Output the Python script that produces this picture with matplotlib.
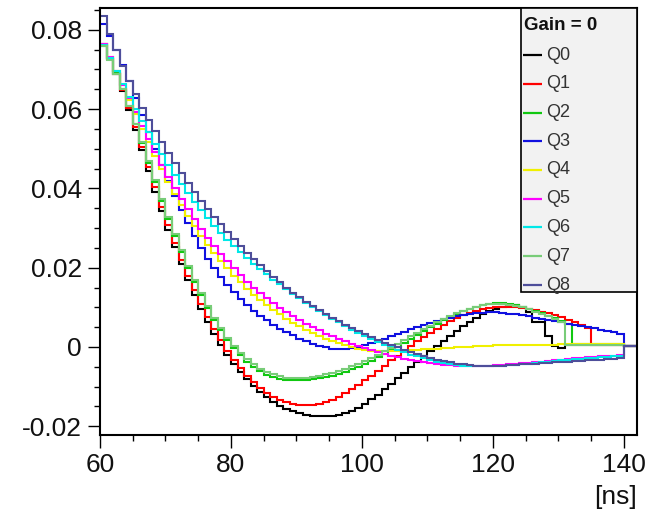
import numpy as np
import matplotlib
matplotlib.use("Agg")
import matplotlib.pyplot as plt
from matplotlib.patches import Rectangle
from matplotlib.ticker import MultipleLocator

plt.rcParams['font.family'] = ['Liberation Sans', 'DejaVu Sans']

# bin edges in ns (1 ns bins)
edges = np.arange(60, 143)

labels = ["Q0", "Q1", "Q2", "Q3", "Q4", "Q5", "Q6", "Q7", "Q8"]
colors = ["#000000", "#ff0000", "#10c810", "#1010e0", "#f0f000",
          "#ff00ff", "#00e8e8", "#78cc78", "#4e4e9a"]

q0 = [0.0765, 0.0728, 0.0688, 0.0645, 0.0598, 0.0548, 0.0496, 0.0443, 0.0391, 0.0342,
      0.0295, 0.0251, 0.0209, 0.0169, 0.0132, 0.0097, 0.0064, 0.0034, 0.0006, -0.0019,
      -0.0042, -0.0063, -0.0082, -0.0099, -0.0114, -0.0127, -0.0138, -0.0148, -0.0156, -0.0162,
      -0.0167, -0.0171, -0.0173, -0.0175, -0.0175, -0.0174, -0.0171, -0.0167, -0.0161, -0.0153,
      -0.0143, -0.0132, -0.0120, -0.0107, -0.0093, -0.0079, -0.0065, -0.0051, -0.0037, -0.0024,
      -0.0011, 0.0002, 0.0015, 0.0028, 0.0041, 0.0053, 0.0064, 0.0074, 0.0083, 0.0091,
      0.0097, 0.0102, 0.0105, 0.0106, 0.0101, 0.0088, 0.0064, 0.0063, 0.0028, 0.0003,
      -0.0002, 0.0006, 0.0006, 0.0006, 0.0006, 0.0006, 0.0006, 0.0006, 0.0006, 0.0006,
      0.0003, 0.0003]
q1 = [0.0762, 0.0727, 0.0689, 0.0648, 0.0603, 0.0555, 0.0505, 0.0454, 0.0403, 0.0354,
      0.0307, 0.0262, 0.0220, 0.0180, 0.0143, 0.0108, 0.0075, 0.0045, 0.0017, -0.0009,
      -0.0032, -0.0053, -0.0072, -0.0089, -0.0104, -0.0116, -0.0126, -0.0134, -0.0140, -0.0144,
      -0.0146, -0.0147, -0.0146, -0.0143, -0.0139, -0.0133, -0.0126, -0.0117, -0.0107, -0.0096,
      -0.0084, -0.0072, -0.0060, -0.0047, -0.0034, -0.0022, -0.0010, 0.0002, 0.0014, 0.0025,
      0.0036, 0.0046, 0.0056, 0.0065, 0.0073, 0.0080, 0.0086, 0.0091, 0.0095, 0.0098,
      0.0100, 0.0101, 0.0101, 0.0100, 0.0098, 0.0096, 0.0093, 0.0089, 0.0085, 0.0080,
      0.0075, 0.0069, 0.0063, 0.0056, 0.0048, 0.0005, 0.0005, 0.0005, 0.0005, 0.0005,
      0.0003, 0.0003]
q2 = [0.0760, 0.0726, 0.0690, 0.0651, 0.0608, 0.0562, 0.0514, 0.0465, 0.0416, 0.0369,
      0.0323, 0.0280, 0.0239, 0.0200, 0.0164, 0.0130, 0.0098, 0.0069, 0.0042, 0.0018,
      -0.0003, -0.0021, -0.0037, -0.0050, -0.0061, -0.0070, -0.0076, -0.0080, -0.0083, -0.0084,
      -0.0084, -0.0083, -0.0081, -0.0079, -0.0076, -0.0072, -0.0067, -0.0062, -0.0056, -0.0050,
      -0.0043, -0.0035, -0.0026, -0.0017, -0.0008, 0.0001, 0.0011, 0.0021, 0.0031, 0.0041,
      0.0050, 0.0059, 0.0068, 0.0076, 0.0083, 0.0090, 0.0096, 0.0101, 0.0105, 0.0108,
      0.0110, 0.0110, 0.0109, 0.0106, 0.0102, 0.0097, 0.0091, 0.0085, 0.0079, 0.0072,
      0.0065, 0.0058, 0.0008, 0.0008, 0.0008, 0.0008, 0.0008, 0.0008, 0.0008, 0.0008,
      0.0003, 0.0003]
q3 = [0.0815, 0.0785, 0.0750, 0.0712, 0.0670, 0.0627, 0.0584, 0.0541, 0.0499, 0.0458,
      0.0419, 0.0382, 0.0346, 0.0312, 0.0280, 0.0250, 0.0223, 0.0198, 0.0176, 0.0156,
      0.0138, 0.0121, 0.0106, 0.0092, 0.0079, 0.0067, 0.0056, 0.0046, 0.0037, 0.0029,
      0.0021, 0.0014, 0.0008, 0.0003, -0.0001, -0.0004, -0.0005, -0.0005, -0.0003, 0.0000,
      0.0004, 0.0009, 0.0015, 0.0021, 0.0027, 0.0033, 0.0039, 0.0045, 0.0051, 0.0056,
      0.0061, 0.0066, 0.0070, 0.0074, 0.0077, 0.0080, 0.0083, 0.0085, 0.0086, 0.0087,
      0.0087, 0.0086, 0.0084, 0.0082, 0.0080, 0.0077, 0.0074, 0.0071, 0.0068, 0.0065,
      0.0062, 0.0059, 0.0056, 0.0053, 0.0050, 0.0047, 0.0043, 0.0040, 0.0037, 0.0034,
      0.0003, 0.0003]
q4 = [0.0765, 0.0732, 0.0697, 0.0661, 0.0624, 0.0587, 0.0551, 0.0516, 0.0482, 0.0449,
      0.0417, 0.0387, 0.0358, 0.0331, 0.0305, 0.0281, 0.0258, 0.0237, 0.0217, 0.0198,
      0.0180, 0.0163, 0.0147, 0.0132, 0.0118, 0.0105, 0.0093, 0.0082, 0.0071, 0.0061,
      0.0052, 0.0043, 0.0035, 0.0028, 0.0021, 0.0015, 0.0009, 0.0004, -0.0001, -0.0005,
      -0.0008, -0.0010, -0.0011, -0.0011, -0.0011, -0.0010, -0.0009, -0.0008, -0.0007, -0.0006,
      -0.0005, -0.0004, -0.0003, -0.0002, -0.0001, 0.0000, 0.0001, 0.0002, 0.0003, 0.0003,
      0.0004, 0.0004, 0.0005, 0.0005, 0.0005, 0.0006, 0.0006, 0.0006, 0.0006, 0.0006,
      0.0007, 0.0007, 0.0007, 0.0007, 0.0007, 0.0007, 0.0007, 0.0007, 0.0007, 0.0007,
      0.0003, 0.0003]
q5 = [0.0764, 0.0731, 0.0697, 0.0662, 0.0627, 0.0592, 0.0558, 0.0525, 0.0492, 0.0460,
      0.0430, 0.0401, 0.0373, 0.0347, 0.0322, 0.0298, 0.0276, 0.0255, 0.0235, 0.0216,
      0.0198, 0.0181, 0.0165, 0.0150, 0.0136, 0.0123, 0.0111, 0.0099, 0.0088, 0.0078,
      0.0068, 0.0059, 0.0050, 0.0042, 0.0034, 0.0027, 0.0020, 0.0014, 0.0008, 0.0002,
      -0.0003, -0.0008, -0.0013, -0.0018, -0.0022, -0.0026, -0.0030, -0.0033, -0.0036, -0.0039,
      -0.0041, -0.0043, -0.0045, -0.0046, -0.0047, -0.0048, -0.0048, -0.0048, -0.0048, -0.0047,
      -0.0046, -0.0045, -0.0044, -0.0043, -0.0041, -0.0040, -0.0038, -0.0037, -0.0035, -0.0034,
      -0.0032, -0.0031, -0.0029, -0.0028, -0.0026, -0.0025, -0.0024, -0.0023, -0.0022, -0.0021,
      0.0003, 0.0003]
q6 = [0.0762, 0.0729, 0.0696, 0.0663, 0.0631, 0.0600, 0.0570, 0.0541, 0.0513, 0.0486,
      0.0460, 0.0435, 0.0411, 0.0388, 0.0366, 0.0345, 0.0325, 0.0306, 0.0288, 0.0271,
      0.0255, 0.0239, 0.0224, 0.0210, 0.0196, 0.0183, 0.0170, 0.0158, 0.0146, 0.0134,
      0.0123, 0.0112, 0.0101, 0.0091, 0.0081, 0.0071, 0.0062, 0.0053, 0.0044, 0.0036,
      0.0028, 0.0020, 0.0013, 0.0006, -0.0001, -0.0007, -0.0013, -0.0019, -0.0024, -0.0029,
      -0.0033, -0.0037, -0.0040, -0.0043, -0.0045, -0.0047, -0.0048, -0.0049, -0.0049, -0.0049,
      -0.0048, -0.0047, -0.0046, -0.0045, -0.0043, -0.0042, -0.0040, -0.0039, -0.0037, -0.0036,
      -0.0034, -0.0033, -0.0031, -0.0030, -0.0028, -0.0027, -0.0026, -0.0025, -0.0024, -0.0023,
      0.0003, 0.0003]
q7 = [0.0758, 0.0724, 0.0688, 0.0650, 0.0608, 0.0563, 0.0516, 0.0468, 0.0420, 0.0373,
      0.0328, 0.0285, 0.0244, 0.0205, 0.0169, 0.0135, 0.0103, 0.0074, 0.0047, 0.0023,
      0.0002, -0.0016, -0.0031, -0.0044, -0.0055, -0.0063, -0.0069, -0.0074, -0.0077, -0.0078,
      -0.0078, -0.0077, -0.0075, -0.0072, -0.0069, -0.0065, -0.0060, -0.0055, -0.0049, -0.0043,
      -0.0036, -0.0028, -0.0020, -0.0011, -0.0002, 0.0007, 0.0017, 0.0027, 0.0036, 0.0045,
      0.0054, 0.0063, 0.0071, 0.0078, 0.0085, 0.0091, 0.0097, 0.0102, 0.0106, 0.0108,
      0.0109, 0.0109, 0.0107, 0.0104, 0.0100, 0.0095, 0.0089, 0.0083, 0.0077, 0.0071,
      0.0064, 0.0006, 0.0006, 0.0006, 0.0006, 0.0006, 0.0006, 0.0006, 0.0006, 0.0006,
      0.0003, 0.0003]
q8 = [0.0836, 0.0790, 0.0748, 0.0709, 0.0672, 0.0637, 0.0604, 0.0573, 0.0544, 0.0516,
      0.0489, 0.0463, 0.0438, 0.0414, 0.0391, 0.0369, 0.0348, 0.0328, 0.0309, 0.0290,
      0.0272, 0.0255, 0.0238, 0.0222, 0.0206, 0.0191, 0.0177, 0.0163, 0.0150, 0.0137,
      0.0125, 0.0114, 0.0103, 0.0093, 0.0083, 0.0074, 0.0065, 0.0056, 0.0048, 0.0040,
      0.0032, 0.0025, 0.0018, 0.0011, 0.0005, -0.0001, -0.0007, -0.0013, -0.0018, -0.0023,
      -0.0028, -0.0032, -0.0036, -0.0039, -0.0042, -0.0044, -0.0046, -0.0047, -0.0048, -0.0048,
      -0.0048, -0.0047, -0.0046, -0.0045, -0.0044, -0.0043, -0.0042, -0.0041, -0.0040, -0.0039,
      -0.0038, -0.0037, -0.0036, -0.0035, -0.0034, -0.0033, -0.0032, -0.0031, -0.0030, -0.0029,
      0.0003, 0.0003]

series = [q0, q1, q2, q3, q4, q5, q6, q7, q8]

W, H = 648, 511
fig = plt.figure(figsize=(W / 100, H / 100), dpi=100)
fig.patch.set_facecolor('white')
ax_l, ax_r, ax_t, ax_b = 100, 637, 8, 435
ax = fig.add_axes([ax_l / W, 1 - ax_b / H, (ax_r - ax_l) / W, (ax_b - ax_t) / H])

for vals, col in zip(series, colors):
    ax.stairs(vals, edges, baseline=None, color=col, linewidth=1.5)

ax.set_xlim(60, 142)
ax.set_ylim(-0.0222, 0.0855)

ax.xaxis.set_major_locator(MultipleLocator(20))
ax.xaxis.set_minor_locator(MultipleLocator(5))
ax.yaxis.set_major_locator(MultipleLocator(0.02))
ax.yaxis.set_minor_locator(MultipleLocator(0.005))
ax.set_yticks([-0.02, 0, 0.02, 0.04, 0.06, 0.08])
ax.set_yticklabels(["-0.02", "0", "0.02", "0.04", "0.06", "0.08"])
ax.set_xticks([60, 80, 100, 120, 140])
ax.set_xticklabels(["60", "80", "100", "120", "140"])

ax.tick_params(axis='both', which='major', direction='out', length=9, width=1.0,
               labelsize=19, pad=4, labelcolor='#111111')
ax.tick_params(axis='both', which='minor', direction='out', length=4.5, width=1.0)
ax.tick_params(top=False, right=False, which='both')

for s in ax.spines.values():
    s.set_linewidth(1.5)
    s.set_color('black')

ax.text(1.0, -0.118, "[ns]", transform=ax.transAxes, ha='right', va='top', fontsize=19,
        color='#111111')

# legend box (ROOT style TLegend)
def px2ax(x, y):
    return (x - ax_l) / (ax_r - ax_l), (ax_b - y) / (ax_b - ax_t)

lx0, ly0 = px2ax(521, 292)
lx1, ly1 = px2ax(637, 8)
ax.add_patch(Rectangle((lx0, ly0), lx1 - lx0, ly1 - ly0, transform=ax.transAxes,
                       facecolor='#f2f2f2', edgecolor='black', linewidth=1.2, zorder=5,
                       clip_on=False))
hx, hy = px2ax(524, 25)
ax.text(hx, hy, "Gain = 0", transform=ax.transAxes, fontsize=13.5, fontweight='bold',
        ha='left', va='center', zorder=6, color='#111111')
for k, (lab, col) in enumerate(zip(labels, colors)):
    yy = 55 + 28.75 * k
    xa, ya = px2ax(523, yy)
    xb, _ = px2ax(542, yy)
    xt, _ = px2ax(546, yy)
    ax.plot([xa, xb], [ya, ya], transform=ax.transAxes, color=col, lw=1.6, zorder=6,
            clip_on=False, solid_capstyle='butt')
    ax.text(xt, ya, lab, transform=ax.transAxes, fontsize=13, ha='left', va='center',
            color='#333333', zorder=6)

fig.savefig("out.png", dpi=100)
